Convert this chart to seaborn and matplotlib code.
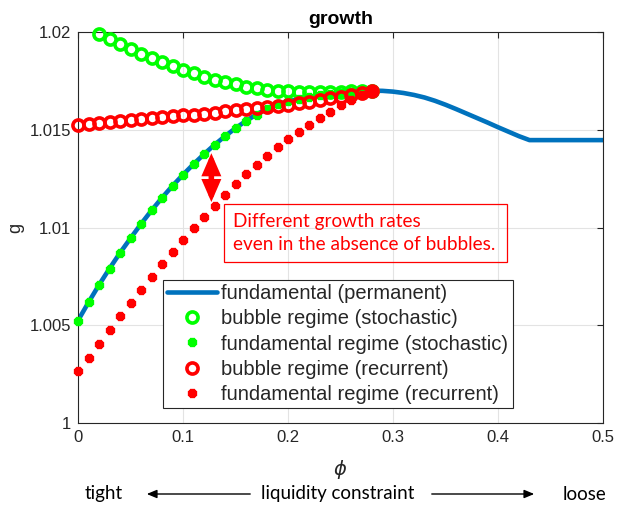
import matplotlib
matplotlib.use("Agg")
import matplotlib.pyplot as plt
import seaborn as sns
from matplotlib.patches import Rectangle, FancyArrowPatch
from matplotlib.ticker import FuncFormatter

# ---- data -------------------------------------------------------------
# fundamental (permanent) growth path
phi_perm = [0.00, 0.01, 0.02, 0.03, 0.04, 0.05, 0.06, 0.07, 0.08, 0.09,
            0.10, 0.11, 0.12, 0.13, 0.14, 0.15, 0.16, 0.17, 0.18, 0.19,
            0.20, 0.21, 0.22, 0.23, 0.24, 0.25, 0.26, 0.27, 0.28, 0.29,
            0.30, 0.31, 0.32, 0.33, 0.34, 0.35, 0.36, 0.37, 0.38, 0.39,
            0.40, 0.41, 0.42, 0.43, 0.50]
g_perm = [1.00524, 1.00617, 1.00706, 1.00790, 1.00870, 1.00945, 1.01018,
          1.01087, 1.01152, 1.01213, 1.01270, 1.01324, 1.01375, 1.01423,
          1.01467, 1.01508, 1.01545, 1.01578, 1.01608, 1.01630, 1.01645,
          1.01658, 1.01668, 1.01676, 1.01683, 1.01688, 1.01693, 1.01697,
          1.01700, 1.01699, 1.01695, 1.01688, 1.01678, 1.01665, 1.01648,
          1.01628, 1.01606, 1.01583, 1.01560, 1.01537, 1.01513, 1.01490,
          1.01467, 1.01447, 1.01447]

# regime grid shared by the stochastic / recurrent solutions
phi_regime = [0.00, 0.01, 0.02, 0.03, 0.04, 0.05, 0.06, 0.07, 0.08, 0.09,
              0.10, 0.11, 0.12, 0.13, 0.14, 0.15, 0.16, 0.17, 0.18, 0.19,
              0.20, 0.21, 0.22, 0.23, 0.24, 0.25, 0.26, 0.27, 0.28]

# bubble regime (stochastic) exists only from phi = 0.02
phi_stoch_bubble = [0.02, 0.03, 0.04, 0.05, 0.06, 0.07, 0.08, 0.09, 0.10,
                    0.11, 0.12, 0.13, 0.14, 0.15, 0.16, 0.17, 0.18, 0.19,
                    0.20, 0.21, 0.22, 0.23, 0.24, 0.25, 0.26, 0.27, 0.28]
g_stoch_bubble = [1.01991, 1.01965, 1.01939, 1.01914, 1.01890, 1.01867,
                  1.01845, 1.01825, 1.01806, 1.01789, 1.01772, 1.01757,
                  1.01745, 1.01732, 1.01721, 1.01712, 1.01705, 1.01700,
                  1.01697, 1.01695, 1.01694, 1.01694, 1.01694, 1.01695,
                  1.01696, 1.01698, 1.01700]

# fundamental regime (stochastic) coincides with the permanent path
g_stoch_fund = [1.00524, 1.00617, 1.00706, 1.00790, 1.00870, 1.00945,
                1.01018, 1.01087, 1.01152, 1.01213, 1.01270, 1.01324,
                1.01375, 1.01423, 1.01467, 1.01508, 1.01545, 1.01578,
                1.01608, 1.01630, 1.01645, 1.01658, 1.01668, 1.01676,
                1.01683, 1.01688, 1.01693, 1.01697, 1.01700]

g_recur_bubble = [1.01525, 1.01529, 1.01534, 1.01538, 1.01543, 1.01548,
                  1.01553, 1.01558, 1.01563, 1.01568, 1.01573, 1.01578,
                  1.01583, 1.01588, 1.01594, 1.01599, 1.01604, 1.01609,
                  1.01614, 1.01621, 1.01628, 1.01636, 1.01644, 1.01652,
                  1.01661, 1.01670, 1.01679, 1.01689, 1.01700]

g_recur_fund = [1.00265, 1.00334, 1.00402, 1.00474, 1.00545, 1.00614,
                1.00680, 1.00749, 1.00812, 1.00875, 1.00938, 1.00998,
                1.01054, 1.01110, 1.01168, 1.01222, 1.01272, 1.01322,
                1.01368, 1.01413, 1.01452, 1.01488, 1.01526, 1.01560,
                1.01593, 1.01625, 1.01652, 1.01678, 1.01700]

labels = ["fundamental (permanent)",
          "bubble regime (stochastic)",
          "fundamental regime (stochastic)",
          "bubble regime (recurrent)",
          "fundamental regime (recurrent)"]

x_ticks = [0, 0.1, 0.2, 0.3, 0.4, 0.5]
y_ticks = [1.0, 1.005, 1.01, 1.015, 1.02]

# gap highlighted by the double arrow
phi_gap = 0.127
g_gap_top = 1.01380
g_gap_bottom = 1.01130

# ---- style ------------------------------------------------------------
sns.set_theme(style="white")
plt.rcParams["font.family"] = ["Liberation Sans", "DejaVu Sans"]
plt.rcParams["mathtext.fontset"] = "dejavusans"

INK = "#262626"
BLUE = "#0072BD"
GREEN = "#00FF00"
RED = "#FF0000"
W, H = 618, 505

fig = plt.figure(figsize=(W / 100, H / 100), dpi=100)
ax = fig.add_axes([78 / W, 1 - 423 / H, (603 - 78) / W, (423 - 32) / H])

circle_kw = dict(linestyle="none", marker="o", markersize=8,
                 markerfacecolor="none", markeredgewidth=2.6, clip_on=False)
star_kw = dict(linestyle="none", marker=(8, 2, 0), markersize=6.6,
               markeredgewidth=2.9, clip_on=False)

sns.lineplot(x=phi_perm, y=g_perm, ax=ax, color=BLUE, linewidth=3.3,
             label=labels[0], zorder=2)
sns.lineplot(x=phi_stoch_bubble, y=g_stoch_bubble, ax=ax, color=GREEN,
             markeredgecolor=GREEN, label=labels[1], zorder=3, **circle_kw)
sns.lineplot(x=phi_regime, y=g_stoch_fund, ax=ax, color=GREEN,
             markeredgecolor=GREEN, label=labels[2], zorder=4, **star_kw)
sns.lineplot(x=phi_regime, y=g_recur_bubble, ax=ax, color=RED,
             markeredgecolor=RED, label=labels[3], zorder=5, **circle_kw)
sns.lineplot(x=phi_regime, y=g_recur_fund, ax=ax, color=RED,
             markeredgecolor=RED, label=labels[4], zorder=6, **star_kw)

# axes, ticks and grid
ax.set_xlim(0, 0.5)
ax.set_ylim(1.0, 1.02)
ax.set_xticks(x_ticks)
ax.set_yticks(y_ticks)
fmt = FuncFormatter(lambda v, _: f"{v:g}")
ax.xaxis.set_major_formatter(fmt)
ax.yaxis.set_major_formatter(fmt)
ax.tick_params(direction="in", length=4, width=0.8, colors=INK,
               labelsize=12, top=True, right=True, pad=5)
ax.grid(True, color="#e3e3e3", linewidth=0.8)
ax.set_axisbelow(True)
for sp in ax.spines.values():
    sp.set_visible(True)
    sp.set_color(INK)
    sp.set_linewidth(0.8)

ax.set_title("growth", fontsize=14, fontweight="bold", color="black", pad=6)
ax.set_ylabel("g", fontsize=13, color=INK)
ax.yaxis.set_label_coords(-0.102, 0.5)
ax.set_xlabel(r"$\phi$", fontsize=14, color=INK)
ax.xaxis.set_label_coords(0.5, -0.09)

# legend
handles, _ = ax.get_legend_handles_labels()
leg = ax.legend(handles, labels, loc="upper left",
                bbox_to_anchor=(163 / W, 1 - 280 / H),
                bbox_transform=fig.transFigure, fontsize=14.5,
                frameon=True, fancybox=False, framealpha=1,
                edgecolor=INK, borderpad=0.22, labelspacing=0.3,
                handlelength=2.45, handletextpad=0.22, borderaxespad=0,
                numpoints=1)
leg.get_frame().set_linewidth(0.8)
leg.set_zorder(10)
for t in leg.get_texts():
    t.set_color(INK)

# double arrow between the two fundamental regimes
ax.annotate("", xy=(phi_gap, g_gap_top), xytext=(phi_gap, g_gap_bottom),
            arrowprops=dict(arrowstyle="<|-|>,head_length=0.6,head_width=0.26",
                            color=RED, lw=4, mutation_scale=16,
                            shrinkA=0, shrinkB=0, joinstyle="miter"),
            zorder=7)

# callout box
callout_font = ["Lato", "DejaVu Sans"]
fig.add_artist(Rectangle((224 / W, 1 - 262 / H), (507 - 224) / W,
                         (262 - 204) / H, transform=fig.transFigure,
                         fill=False, edgecolor=RED, linewidth=0.9, zorder=8))
fig.text(233 / W, 1 - 222 / H, "Different growth rates", color=RED,
         fontsize=13.7, family=callout_font, va="center", ha="left")
fig.text(233 / W, 1 - 245 / H, "even in the absence of bubbles.", color=RED,
         fontsize=13.7, family=callout_font, va="center", ha="left")

# liquidity constraint scale under the axis
yb = 1 - 494 / H
fig.text(104 / W, yb, "tight", fontsize=13.5, family=callout_font,
         ha="center", va="center", color="black")
fig.text(338 / W, yb, "liquidity constraint", fontsize=13.5,
         family=callout_font, ha="center", va="center", color="black")
fig.text(585 / W, yb, "loose", fontsize=13.5, family=callout_font,
         ha="center", va="center", color="black")
for x0, x1 in [(253, 144), (429, 537)]:
    fig.add_artist(FancyArrowPatch((x0 / W, yb), (x1 / W, yb),
                                   transform=fig.transFigure,
                                   arrowstyle="-|>,head_length=0.6,head_width=0.25",
                                   mutation_scale=10, lw=1, color="black"))

fig.savefig("out.png", dpi=100, facecolor="white")
